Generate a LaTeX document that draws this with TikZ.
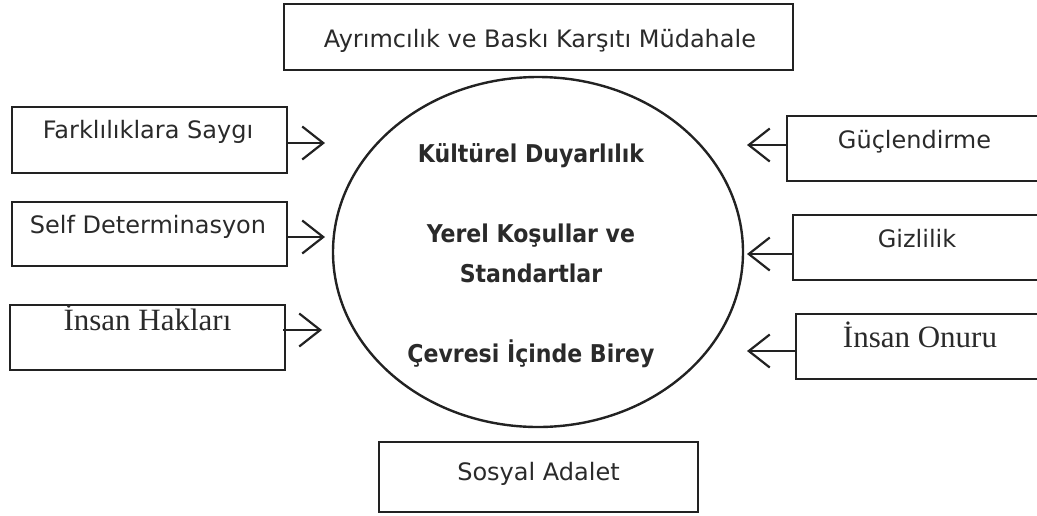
\documentclass[tikz,border=0pt]{standalone}
\usepackage{fontspec}
\setmainfont{DejaVu Sans}
\newfontfamily\serifpart{Liberation Serif}
\newfontfamily\condpart{DejaVu Sans Condensed}
\usetikzlibrary{arrows.meta,shapes.geometric}
\definecolor{linec}{HTML}{222222}
\definecolor{textc}{HTML}{2A2A2A}
\tikzset{
  box/.style={draw=linec, line width=2.6pt, rectangle, inner sep=0pt},
  lbl/.style={anchor=base, inner sep=0pt, text=textc, font=\fontsize{24}{28}\selectfont},
  slbl/.style={anchor=base, inner sep=0pt, text=textc, font=\serifpart\fontsize{31}{36}\selectfont},
  blbl/.style={anchor=base, inner sep=0pt, text=textc, font=\condpart\bfseries\fontsize{24.5}{29}\selectfont},
  arr/.style={draw=linec, line width=2.2pt, -{Straight Barb[length=21pt,width=33pt,line width=2.2pt]}},
}
\begin{document}
\begin{tikzpicture}[x=1pt,y=-1pt]
\clip (0,0) rectangle (1037,515);
\useasboundingbox (0,0) rectangle (1037,515);
% central ellipse
\node[draw=linec, line width=2.4pt, ellipse, minimum width=410pt, minimum height=350pt, inner sep=0pt] (e) at (538,252) {};
\node[blbl] (c1) at (531,162) {Kültürel Duyarlılık};
\node[blbl] (c2) at (531,242) {Yerel Koşullar ve};
\node[blbl] (c3) at (531,282) {Standartlar};
\node[blbl] (c4) at (531,362) {Çevresi İçinde Birey};
% top box
\node[box, minimum width=509pt, minimum height=66pt] (top) at (538.5,37) {};
\node[lbl] (topt) at (540,47) {Ayrımcılık ve Baskı Karşıtı Müdahale};
% bottom box
\node[box, minimum width=319pt, minimum height=70pt] (bot) at (538.5,477) {};
\node[lbl] (bott) at (538.5,480) {Sosyal Adalet};
% left boxes
\node[box, minimum width=275pt, minimum height=66pt] (l1) at (149.5,140) {};
\node[lbl] (l1t) at (148,138) {Farklılıklara Saygı};
\node[box, minimum width=275pt, minimum height=64pt] (l2) at (149.5,234) {};
\node[lbl] (l2t) at (148,233) {Self Determinasyon};
\node[box, minimum width=275pt, minimum height=65pt] (l3) at (147.5,337.5) {};
\node[slbl] (l3t) at (147.5,330) {İnsan Hakları};
% right boxes
\node[box, minimum width=258pt, minimum height=65pt] (r1) at (916,148.5) {};
\node[lbl] (r1t) at (914.5,148) {Güçlendirme};
\node[box, minimum width=252pt, minimum height=65pt] (r2) at (919,247.5) {};
\node[lbl] (r2t) at (917,247) {Gizlilik};
\node[box, minimum width=249pt, minimum height=65pt] (r3) at (920.5,346.5) {};
\node[slbl] (r3t) at (920,347) {İnsan Onuru};
% arrow tips
\coordinate (a1) at (325,143);
\coordinate (a2) at (325,237);
\coordinate (a3) at (322,330);
\coordinate (b1) at (747,145);
\coordinate (b2) at (747,254);
\coordinate (b3) at (747,351);
\draw[arr] (l1.east |- a1) -- (a1);
\draw[arr] (l2.east |- a2) -- (a2);
\draw[arr] ([xshift=-3pt]l3.east |- a3) -- (a3);
\draw[arr] (r1.west |- b1) -- (b1);
\draw[arr] (r2.west |- b2) -- (b2);
\draw[arr] (r3.west |- b3) -- (b3);
\end{tikzpicture}
\end{document}
